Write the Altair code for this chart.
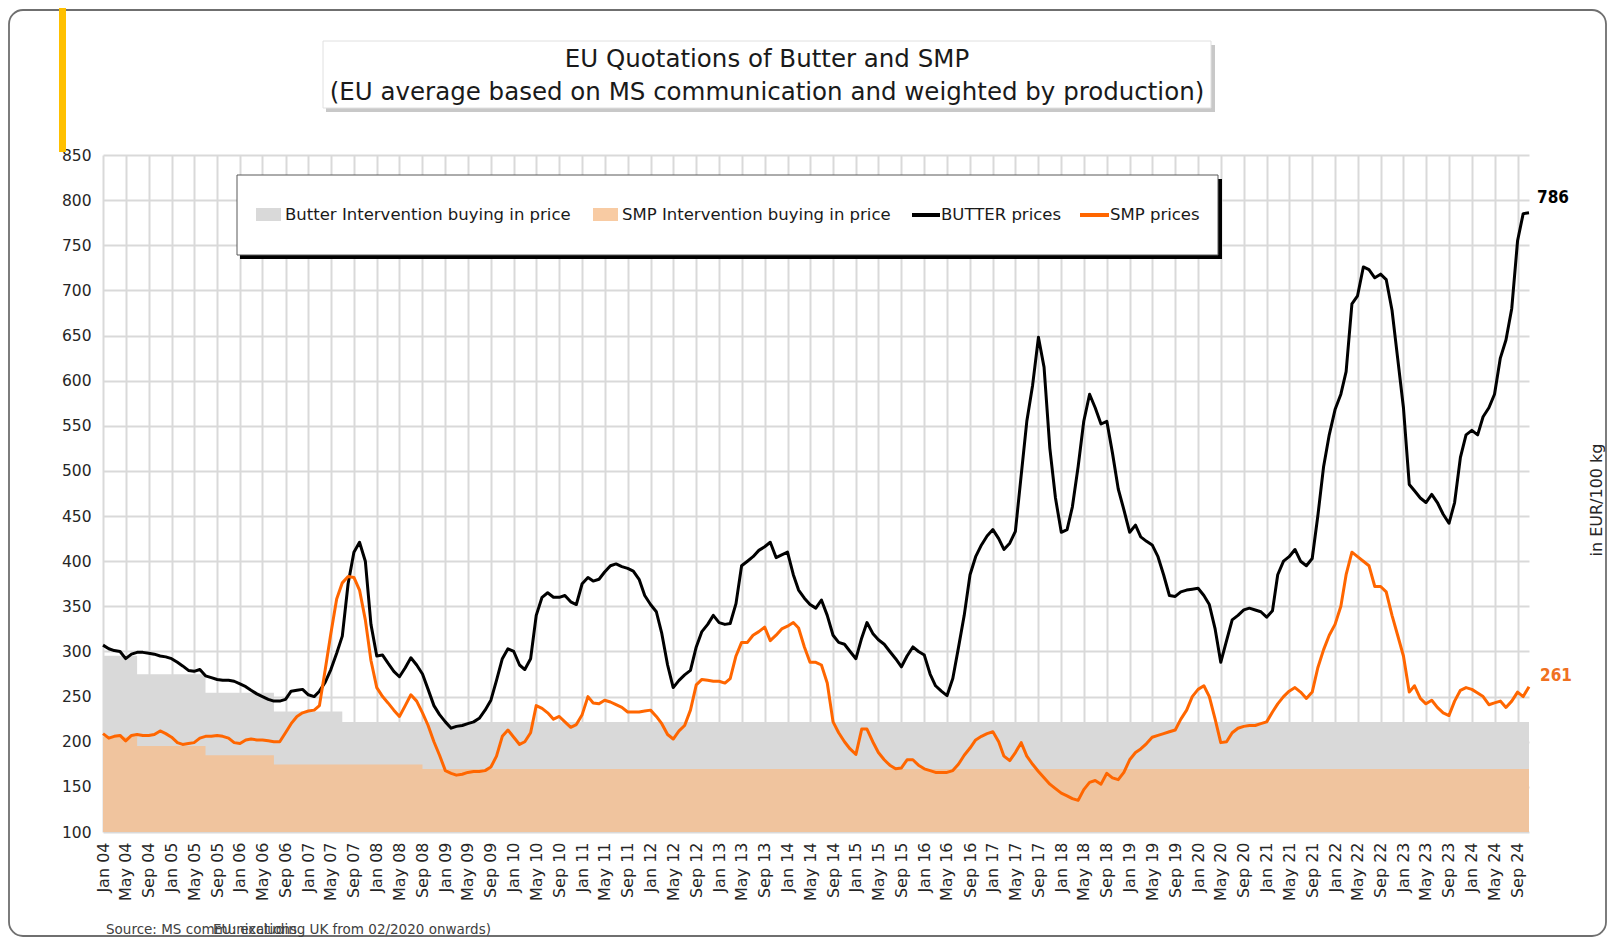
import altair as alt
import pandas as pd

# ---------------- data ----------------
start_month = "2004-01-01"
end_month = "2024-11-01"

butter_prices = [
    307, 303, 301, 300, 292, 297, 299, 299, 298, 297, 295, 294,   # 2004
    292, 288, 284, 279, 278, 280, 273, 271, 269, 268, 268, 267,   # 2005
    264, 261, 257, 253, 250, 247, 245, 245, 247, 256, 257, 258,   # 2006
    252, 250, 256, 266, 280, 298, 317, 375, 410, 421, 400, 330,   # 2007
    295, 296, 287, 278, 272, 282, 293, 285, 275, 258, 240, 230,   # 2008
    222, 215, 217, 218, 220, 222, 226, 235, 246, 268, 292, 303,   # 2009
    300, 285, 280, 292, 340, 360, 365, 360, 360, 362, 355, 352,   # 2010
    375, 382, 378, 380, 388, 395, 397, 394, 392, 389, 380, 362,   # 2011
    352, 344, 320, 285, 260, 268, 274, 279, 305, 322, 330, 340,   # 2012
    332, 330, 331, 353, 395, 400, 405, 412, 416, 421, 404, 407,   # 2013
    410, 385, 368, 359, 352, 348, 357, 340, 318, 310, 308, 300,   # 2014
    292, 315, 332, 320, 313, 308, 300, 292, 283, 295, 305, 300,   # 2015
    296, 275, 262, 256, 251, 270, 304, 340, 385, 405, 418, 428,   # 2016
    435, 425, 413, 420, 433, 495, 555, 595, 648, 615, 525, 470,   # 2017
    432, 435, 460, 505, 555, 585, 570, 552, 555, 520, 480, 457,   # 2018
    432, 440, 427, 422, 418, 405, 385, 362, 361, 366, 368, 369,   # 2019
    370, 362, 352, 325, 288, 312, 335, 340, 346, 348, 346, 344,   # 2020
    338, 345, 385, 400, 405, 413, 400, 395, 403, 450, 505, 540,   # 2021
    568, 585, 610, 685, 694, 726, 723, 714, 718, 712, 678, 625,   # 2022
    570, 485, 478, 470, 465, 474, 465, 452, 442, 465, 515, 540,   # 2023
    545, 540, 560, 570, 585, 625, 645, 680, 755, 785, 786,        # 2024
]

smp_prices = [
    209, 204, 206, 207, 201, 207, 208, 207, 207, 208, 212, 209,   # 2004
    205, 199, 197, 198, 199, 204, 206, 206, 207, 206, 204, 199,   # 2005
    198, 202, 203, 202, 202, 201, 200, 200, 210, 220, 228, 232,   # 2006
    234, 235, 240, 280, 320, 358, 376, 383, 382, 368, 335, 290,   # 2007
    260, 250, 243, 235, 228, 240, 252, 245, 232, 218, 200, 185,   # 2008
    168, 165, 163, 164, 166, 167, 167, 168, 172, 184, 206, 213,   # 2009
    205, 197, 200, 210, 240, 237, 232, 225, 228, 222, 216, 219,   # 2010
    230, 250, 243, 242, 246, 244, 241, 238, 233, 233, 233, 234,   # 2011
    235, 228, 220, 208, 203, 212, 218, 235, 263, 269, 268, 267,   # 2012
    267, 265, 270, 295, 310, 310, 318, 322, 327, 312, 318, 325,   # 2013
    328, 332, 326, 305, 288, 288, 285, 265, 222, 210, 200, 192,   # 2014
    186, 214, 214, 200, 188, 180, 174, 170, 171, 180, 180, 174,   # 2015
    170, 168, 166, 166, 166, 168, 175, 185, 193, 202, 206, 209,   # 2016
    211, 200, 184, 179, 188, 199, 184, 175, 167, 160, 153, 148,   # 2017
    143, 140, 137, 135, 147, 155, 157, 153, 165, 160, 158, 166,   # 2018
    180, 188, 192, 198, 205, 207, 209, 211, 213, 225, 235, 250,   # 2019
    258, 262, 250, 225, 199, 200, 210, 215, 217, 218, 218, 220,   # 2020
    222, 233, 242, 250, 256, 260, 255, 248, 255, 282, 302, 318,   # 2021
    330, 350, 385, 410, 405, 400, 395, 372, 372, 366, 340, 318,   # 2022
    295, 255, 262, 248, 242, 246, 238, 232, 229, 245, 257, 260,   # 2023
    258, 254, 250, 241, 243, 245, 238, 245, 255, 250, 261,        # 2024
]

butter_iv_dates = ["2004-01-01", "2004-07-01", "2005-07-01", "2006-07-01", "2007-07-01", "2024-11-01"]
butter_iv_price = [295.38, 274.71, 254.20, 233.57, 221.75, 221.75]

smp_iv_dates = ["2004-01-01", "2004-07-01", "2005-07-01", "2006-07-01", "2008-09-01", "2024-11-01"]
smp_iv_price = [205.52, 195.24, 184.97, 174.69, 169.80, 169.80]

y_ticks = list(range(100, 851, 50))

title_line1 = "EU Quotations of Butter and SMP"
title_line2 = "(EU average based on MS communication and weighted by production)"
legend_labels = ["Butter Intervention buying in price", "SMP Intervention buying in price",
                 "BUTTER prices", "SMP prices"]
unit_label = "in EUR/100 kg"
source_label = "Source: MS communications"
note_label = "EU: excluding UK from 02/2020 onwards)"

# ---------------- tables ----------------
months = pd.date_range(start_month, end_month, freq="MS")
butter_df = pd.DataFrame({"date": months, "value": butter_prices})
smp_df = pd.DataFrame({"date": months, "value": smp_prices})
butter_iv_df = pd.DataFrame({"date": pd.to_datetime(butter_iv_dates), "value": butter_iv_price})
smp_iv_df = pd.DataFrame({"date": pd.to_datetime(smp_iv_dates), "value": smp_iv_price})
end_butter = butter_df.tail(1)
end_smp = smp_df.tail(1)

W, H = 1426, 677
AX_FONT = "DejaVu Sans"
COND = "DejaVu Sans Condensed"
GRID = "#d9d9d9"

X = alt.X(
    "date:T",
    scale=alt.Scale(domain=[alt.DateTime(year=2004, month=1, date=1),
                            alt.DateTime(year=2024, month=11, date=1)], nice=False),
    axis=alt.Axis(format="%b %y", tickCount=alt.TimeIntervalStep(interval="month", step=4),
                  labelAngle=270, labelOverlap=False, labelFlush=False, labelPadding=10,
                  ticks=False, domain=False, grid=True, gridColor=GRID, gridWidth=2,
                  labelFont=AX_FONT, labelFontSize=16, labelColor="#262626", title=None),
)
Y = alt.Y(
    "value:Q",
    scale=alt.Scale(domain=[100, 850], nice=False, zero=False),
    axis=alt.Axis(values=y_ticks, ticks=False, domain=False, grid=True, gridColor=GRID,
                  gridWidth=2, labelFont=AX_FONT, labelFontSize=15.5, labelColor="#262626",
                  labelPadding=12, title=None),
)

butter_area = alt.Chart(butter_iv_df).mark_area(interpolate="step-after", color="#d9d9d9").encode(
    x=X, y=Y, y2=alt.datum(100))
smp_area = alt.Chart(smp_iv_df).mark_area(interpolate="step-after", color="#f0c49e").encode(
    x=X, y=Y, y2=alt.datum(100))
butter_line = alt.Chart(butter_df).mark_line(color="#000000", strokeWidth=3, strokeJoin="round").encode(x=X, y=Y)
smp_line = alt.Chart(smp_df).mark_line(color="#ff6600", strokeWidth=3, strokeJoin="round").encode(x=X, y=Y)

end_b = alt.Chart(end_butter).mark_text(align="left", baseline="middle", dx=8, dy=-15,
                                         font=COND, fontWeight="bold",
                                         fontSize=17, color="#000000").encode(x=X, y=Y, text="value:Q")
end_s = alt.Chart(end_smp).mark_text(align="left", baseline="middle", dx=11, dy=-11,
                                      font=COND, fontWeight="bold",
                                      fontSize=17, color="#f07020").encode(x=X, y=Y, text="value:Q")

dummy = pd.DataFrame({"d": [0]})


def rect(x, x2, y, y2, **kw):
    return alt.Chart(dummy).mark_rect(**kw).encode(
        x=alt.value(x), x2=alt.value(x2), y=alt.value(y), y2=alt.value(y2))


def label(txt, x, y, **kw):
    return alt.Chart(dummy).mark_text(**kw).encode(x=alt.value(x), y=alt.value(y), text=alt.value(txt))


# decorations (pixel positions relative to plot area origin)
frame = rect(-94, 1503, -145, 781, fill="white", fillOpacity=0, stroke="#6f6f6f",
             strokeWidth=1.8, cornerRadius=14)
ybar = rect(-44, -37, -147, -3, color="#ffc000")
title_shadow = rect(223, 1112, -110, -43, color="#c8c8c8")
title_box = rect(220, 1108, -114, -47, fill="white", stroke="#e0e0e0", strokeWidth=1)
t1 = label(title_line1, 664, -95, align="center", baseline="middle", font=AX_FONT, fontSize=24.5, color="#1a1a1a")
t2 = label(title_line2, 664, -62, align="center", baseline="middle", font=AX_FONT, fontSize=24.5, color="#1a1a1a")

leg_shadow = rect(137, 1119, 24, 104, color="#000000")
leg_box = rect(134, 1115, 20, 100, fill="white", stroke="#595959", strokeWidth=1)
sw1 = rect(153, 178, 53, 66, color="#d9d9d9")
sw2 = rect(490, 515, 53, 66, color="#f8cba3")
sw3 = rect(809, 837, 58, 62, color="#000000")
sw4 = rect(977, 1006, 58, 62, color="#ff6600")
l1 = label(legend_labels[0], 182, 60, align="left", baseline="middle", font=AX_FONT, fontSize=16.5, color="#1a1a1a")
l2 = label(legend_labels[1], 519, 60, align="left", baseline="middle", font=AX_FONT, fontSize=16.5, color="#1a1a1a")
l3 = label(legend_labels[2], 838, 60, align="left", baseline="middle", font=AX_FONT, fontSize=16.5, color="#1a1a1a")
l4 = label(legend_labels[3], 1007, 60, align="left", baseline="middle", font=AX_FONT, fontSize=16.5, color="#1a1a1a")

unit = label(unit_label, 1494, 345, align="center", baseline="middle", angle=270, font=AX_FONT,
             fontSize=16, color="#262626")
src = label(source_label, 3, 775, align="left", baseline="middle", font=AX_FONT, fontSize=13.5, color="#404040")
note = label(note_label, 388, 775, align="right", baseline="middle", font=AX_FONT, fontSize=13.5, color="#404040")

chart = alt.layer(
    frame, ybar, title_shadow, title_box, t1, t2,
    butter_area, smp_area, butter_line, smp_line, end_b, end_s,
    leg_shadow, leg_box, sw1, sw2, sw3, sw4, l1, l2, l3, l4,
    unit, src, note,
).properties(
    width=W, height=H,
    autosize=alt.AutoSizeParams(type="none"),
    padding={"left": 95, "top": 147, "right": 79, "bottom": 106},
    background="white",
).configure_view(strokeWidth=0)

chart.save("out.html", embed_options={"renderer": "svg", "actions": False})
